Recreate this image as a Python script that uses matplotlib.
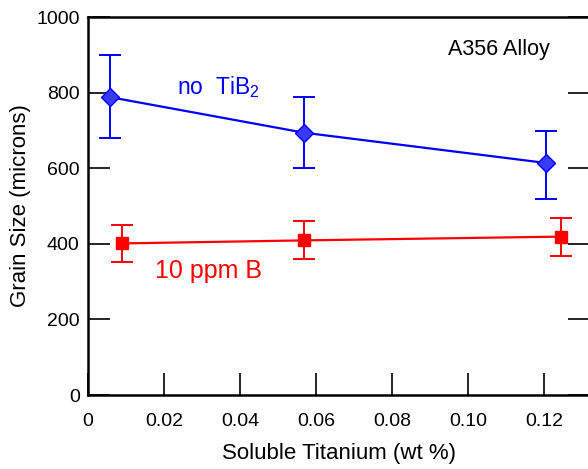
import matplotlib.pyplot as plt
import numpy as np

plt.rcParams['font.family'] = ['Liberation Sans', 'DejaVu Sans']
plt.rcParams['mathtext.fontset'] = 'custom'
plt.rcParams['mathtext.rm'] = 'Liberation Sans'

# data
ti_no_tib2 = [0.0058, 0.0568, 0.1204]
gs_no_tib2 = [788, 694, 614]
err_lo_no_tib2 = [108, 94, 95]
err_hi_no_tib2 = [112, 95, 85]

ti_10ppm = [0.0089, 0.0568, 0.1245]
gs_10ppm = [401, 409, 419]
err_lo_10ppm = [50, 50, 50]
err_hi_10ppm = [50, 50, 50]

xticks = [0, 0.02, 0.04, 0.06, 0.08, 0.10, 0.12]
xticklabels = ['0', '0.02', '0.04', '0.06', '0.08', '0.10', '0.12']
yticks = [0, 200, 400, 600, 800, 1000]

fig = plt.figure(figsize=(5.88, 4.69), dpi=100)
ax = fig.add_axes([88/588, 1 - 395/469, 502/588, 378/469])

ax.errorbar(ti_no_tib2, gs_no_tib2, yerr=[err_lo_no_tib2, err_hi_no_tib2],
            color='#0000ff', marker='D', markersize=9, markerfacecolor='#3a3aff',
            markeredgecolor='#0000ff', linewidth=1.6, elinewidth=1.4, capsize=8,
            capthick=1.4, clip_on=False, zorder=3)
ax.errorbar(ti_10ppm, gs_10ppm, yerr=[err_lo_10ppm, err_hi_10ppm],
            color='#ff0000', marker='s', markersize=9, linewidth=1.6,
            elinewidth=1.4, capsize=8, capthick=1.4, clip_on=False, zorder=3)

ax.set_xlim(0, 502/3800)
ax.set_ylim(0, 1000)
ax.set_xticks(xticks)
ax.set_xticklabels(xticklabels)
ax.set_yticks(yticks)

ax.tick_params(direction='in', length=16, width=1.2, labelsize=14, pad=13,
               right=True, top=False)
ax.tick_params(axis='y', pad=6)
for s in ax.spines.values():
    s.set_linewidth(1.8)

ax.set_xlabel('Soluble Titanium (wt %)', fontsize=16, labelpad=9)
ax.set_ylabel('Grain Size (microns)', fontsize=16, labelpad=4)

ax.text(0.108, 915, 'A356 Alloy', fontsize=15.5, ha='center', va='center')
ax.text(0.0235, 815, 'no  TiB$_\\mathrm{2}$', fontsize=16.5, color='#0000ff', ha='left', va='center')
ax.text(0.0177, 327, '10 ppm B', fontsize=18, color='#ff0000', ha='left', va='center')

plt.savefig('out.png', dpi=100)
